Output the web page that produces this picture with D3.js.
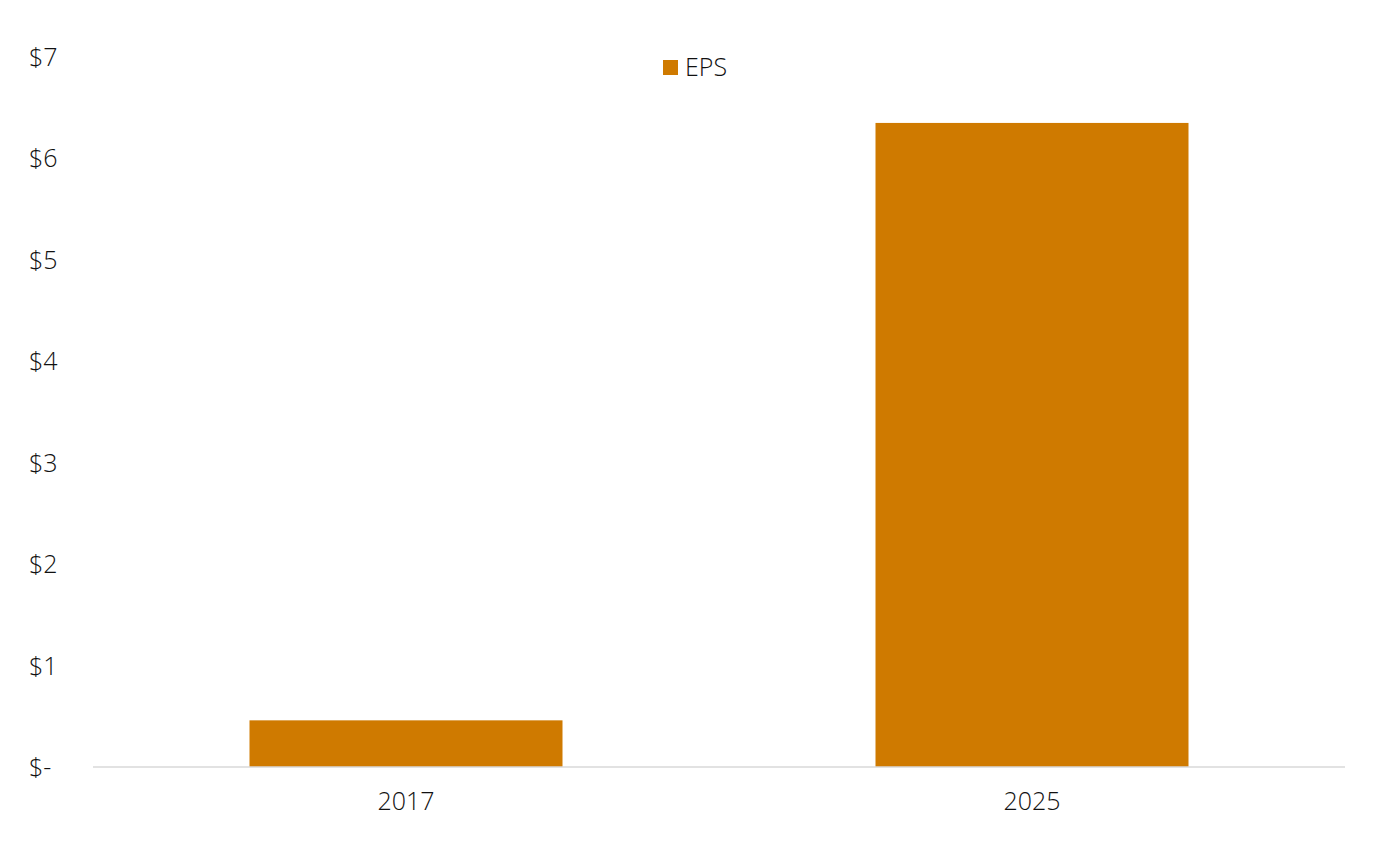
<!DOCTYPE html>
<html><head><meta charset="utf-8">
<script src="https://cdn.jsdelivr.net/npm/d3@7"></script>
<style>body{margin:0;background:#fff}text{font-family:"Open Sans","Noto Sans",sans-serif;fill:#111}</style>
</head><body><svg id="chart" width="1380" height="863"></svg>
<script>
var categories = ["2017", "2025"];
var eps = [0.46, 6.35];
var yTicks = [0, 1, 2, 3, 4, 5, 6, 7];

var margin = {top: 57, right: 35, bottom: 96, left: 93};
var width = 1380, height = 863;
var svg = d3.select("#chart");

var x = d3.scaleBand().domain(categories).range([margin.left, width - margin.right]).paddingInner(0.5).paddingOuter(0.25);
var y = d3.scaleLinear().domain([0, 7]).range([height - margin.bottom, margin.top]);

svg.selectAll("rect.bar").data(eps).enter().append("rect")
  .attr("class", "bar")
  .attr("x", function(d, i){ return x(categories[i]); })
  .attr("width", x.bandwidth())
  .attr("y", function(d){ return y(d); })
  .attr("height", function(d){ return y(0) - y(d); })
  .attr("fill", "#cf7a00");

svg.append("line").attr("x1", margin.left).attr("x2", width - margin.right)
  .attr("y1", y(0)).attr("y2", y(0)).attr("stroke", "#d9d9d9").attr("stroke-width", 1.5);

svg.selectAll("text.ytick").data(yTicks).enter().append("text")
  .attr("class", "ytick").attr("x", 29).attr("y", function(d){ return y(d) + 9; })
  .attr("font-size", 25).attr("font-weight", 300)
  .text(function(d){ return d === 0 ? "$-" : "$" + d; });

svg.selectAll("text.xtick").data(categories).enter().append("text")
  .attr("class", "xtick").attr("x", function(d){ return x(d) + x.bandwidth() / 2; })
  .attr("y", 810).attr("text-anchor", "middle").attr("font-size", 25).attr("font-weight", 300)
  .text(function(d){ return d; });

var legend = svg.append("g").attr("transform", "translate(663,60)");
legend.append("rect").attr("width", 15).attr("height", 15).attr("fill", "#cf7a00");
legend.append("text").attr("x", 22).attr("y", 16).attr("font-size", 25).attr("font-weight", 300).text("EPS");
</script></body></html>
